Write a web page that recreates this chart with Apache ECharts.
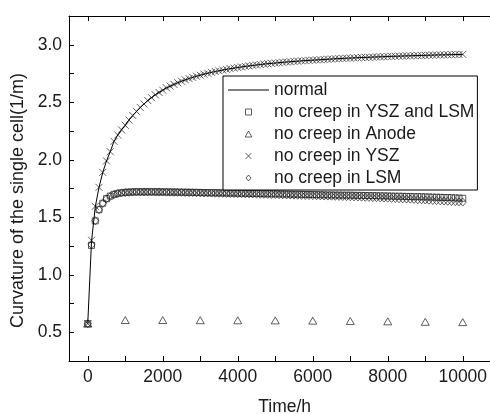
<!DOCTYPE html>
<html>
<head>
<meta charset="utf-8">
<script src="https://cdn.jsdelivr.net/npm/echarts@6/dist/echarts.min.js"></script>
<style>
  html, body { margin: 0; padding: 0; background: #fff; }
  #chart { width: 490px; height: 414px; }
</style>
</head>
<body>
<div id="chart"></div>
<script>
(() => {
  "use strict";

  // time axis (h), one sample every 100 h
  const times = [
    0, 100, 200, 300, 400, 500, 600, 700, 800, 900,
    1000, 1100, 1200, 1300, 1400, 1500, 1600, 1700, 1800, 1900,
    2000, 2100, 2200, 2300, 2400, 2500, 2600, 2700, 2800, 2900,
    3000, 3100, 3200, 3300, 3400, 3500, 3600, 3700, 3800, 3900,
    4000, 4100, 4200, 4300, 4400, 4500, 4600, 4700, 4800, 4900,
    5000, 5100, 5200, 5300, 5400, 5500, 5600, 5700, 5800, 5900,
    6000, 6100, 6200, 6300, 6400, 6500, 6600, 6700, 6800, 6900,
    7000, 7100, 7200, 7300, 7400, 7500, 7600, 7700, 7800, 7900,
    8000, 8100, 8200, 8300, 8400, 8500, 8600, 8700, 8800, 8900,
    9000, 9100, 9200, 9300, 9400, 9500, 9600, 9700, 9800, 9900,
    10000
  ];

  const normal = [
    0.575, 1.29, 1.59, 1.76, 1.89, 1.99, 2.07, 2.16, 2.215, 2.26,
    2.30, 2.345, 2.385, 2.42, 2.455, 2.485, 2.515, 2.54, 2.565, 2.585,
    2.605, 2.625, 2.64, 2.655, 2.67, 2.683, 2.695, 2.706, 2.716, 2.726,
    2.735, 2.744, 2.752, 2.76, 2.767, 2.774, 2.78, 2.786, 2.792, 2.797,
    2.802, 2.807, 2.812, 2.816, 2.82, 2.824, 2.828, 2.832, 2.835, 2.838,
    2.841, 2.844, 2.847, 2.85, 2.852, 2.855, 2.857, 2.86, 2.862, 2.864,
    2.866, 2.868, 2.87, 2.872, 2.874, 2.876, 2.878, 2.879, 2.881, 2.883,
    2.884, 2.886, 2.887, 2.889, 2.89, 2.891, 2.893, 2.894, 2.895, 2.896,
    2.898, 2.899, 2.9, 2.901, 2.902, 2.903, 2.904, 2.905, 2.906, 2.907,
    2.908, 2.909, 2.91, 2.911, 2.912, 2.912, 2.913, 2.914, 2.915, 2.915,
    2.916
  ];

  // crosses sit on the normal curve
  const noCreepYSZ = [
    0.575, 1.30, 1.595, 1.76, 1.89, 1.99, 2.07, 2.16, 2.215, 2.26,
    2.30, 2.345, 2.385, 2.42, 2.455, 2.485, 2.515, 2.54, 2.565, 2.585,
    2.605, 2.625, 2.64, 2.655, 2.67, 2.683, 2.695, 2.706, 2.716, 2.726,
    2.735, 2.744, 2.752, 2.76, 2.767, 2.774, 2.78, 2.786, 2.792, 2.797,
    2.802, 2.807, 2.812, 2.816, 2.82, 2.824, 2.828, 2.832, 2.835, 2.838,
    2.841, 2.844, 2.847, 2.85, 2.852, 2.855, 2.857, 2.86, 2.862, 2.864,
    2.866, 2.868, 2.87, 2.872, 2.874, 2.876, 2.878, 2.879, 2.881, 2.883,
    2.884, 2.886, 2.887, 2.889, 2.89, 2.891, 2.893, 2.894, 2.895, 2.896,
    2.898, 2.899, 2.9, 2.901, 2.902, 2.903, 2.904, 2.905, 2.906, 2.907,
    2.908, 2.909, 2.91, 2.911, 2.912, 2.912, 2.913, 2.914, 2.915, 2.915,
    2.916
  ];

  const noCreepYSZandLSM = [
    0.575, 1.255, 1.468, 1.566, 1.622, 1.662, 1.684, 1.699, 1.708, 1.713,
    1.716, 1.718, 1.72, 1.721, 1.721, 1.721, 1.721, 1.721, 1.721, 1.72,
    1.720, 1.720, 1.719, 1.719, 1.718, 1.718, 1.717, 1.717, 1.716, 1.716,
    1.715, 1.714, 1.714, 1.713, 1.713, 1.712, 1.712, 1.711, 1.710, 1.710,
    1.709, 1.709, 1.708, 1.708, 1.707, 1.707, 1.706, 1.705, 1.705, 1.704,
    1.704, 1.703, 1.702, 1.702, 1.701, 1.700, 1.700, 1.699, 1.698, 1.698,
    1.697, 1.696, 1.696, 1.695, 1.694, 1.694, 1.693, 1.693, 1.692, 1.692,
    1.692, 1.691, 1.690, 1.690, 1.689, 1.688, 1.688, 1.687, 1.686, 1.686,
    1.685, 1.684, 1.683, 1.683, 1.682, 1.681, 1.680, 1.679, 1.679, 1.678,
    1.677, 1.676, 1.675, 1.674, 1.673, 1.672, 1.671, 1.670, 1.668, 1.667,
    1.665
  ];

  const noCreepLSM = [
    0.575, 1.26, 1.47, 1.565, 1.62, 1.66, 1.682, 1.697, 1.706, 1.712,
    1.715, 1.717, 1.719, 1.72, 1.72, 1.72, 1.72, 1.72, 1.72, 1.72,
    1.719, 1.718, 1.718, 1.717, 1.717, 1.716, 1.715, 1.714, 1.714, 1.713,
    1.712, 1.711, 1.711, 1.710, 1.709, 1.709, 1.708, 1.707, 1.706, 1.706,
    1.705, 1.704, 1.703, 1.703, 1.702, 1.701, 1.700, 1.699, 1.698, 1.698,
    1.697, 1.696, 1.695, 1.694, 1.693, 1.692, 1.691, 1.690, 1.689, 1.689,
    1.688, 1.687, 1.686, 1.685, 1.684, 1.683, 1.682, 1.681, 1.680, 1.679,
    1.678, 1.677, 1.676, 1.675, 1.673, 1.672, 1.671, 1.670, 1.668, 1.667,
    1.666, 1.664, 1.663, 1.661, 1.660, 1.658, 1.657, 1.655, 1.653, 1.652,
    1.650, 1.648, 1.646, 1.645, 1.643, 1.641, 1.639, 1.637, 1.636, 1.634,
    1.632
  ];

  // anode case sampled every 1000 h
  const anodeTimes = [0, 1000, 2000, 3000, 4000, 5000, 6000, 7000, 8000, 9000, 10000];
  const noCreepAnode = [0.575, 0.606, 0.606, 0.605, 0.604, 0.603, 0.601, 0.598, 0.595, 0.591, 0.588];

  const xLabelValues = [0, 2000, 4000, 6000, 8000, 10000];
  const xTickValues = [0, 1000, 2000, 3000, 4000, 5000, 6000, 7000, 8000, 9000, 10000];
  const yLabelValues = [0.5, 1.0, 1.5, 2.0, 2.5, 3.0];
  const yTickValues = [0.5, 0.75, 1.0, 1.25, 1.5, 1.75, 2.0, 2.25, 2.5, 2.75, 3.0];

  const names = [
    "normal",
    "no creep in YSZ and LSM",
    "no creep in Anode",
    "no creep in YSZ",
    "no creep in LSM"
  ];

  const FONT = "'Liberation Sans', Arial, sans-serif";
  const FS = 17.5;
  const INK = "#000";
  const MARK = "#222";
  const TEXT = "#1a1a1a";

  const SYM_SQUARE = "path://M0,0H10V10H0Z";
  const SYM_TRIANGLE = "path://M5,0L10,9L0,9Z";
  const SYM_CROSS = "path://M0,0L10,10M10,0L0,10";
  const SYM_DIAMOND = "path://M5,0L10,6L5,12L0,6Z";

  const pairs = (xs, ys) => xs.map((x, i) => [x, ys[i]]);

  const hollow = { color: "rgba(0,0,0,0)", borderColor: MARK, borderWidth: 0.9 };

  const chart = echarts.init(document.getElementById("chart"), null, { renderer: "canvas" });

  const baseX = {
    type: "value",
    min: -500,
    max: 11000,
    axisLine: { show: true, onZero: false, lineStyle: { color: INK, width: 1 } },
    axisTick: { show: true, inside: true, length: 5, customValues: xTickValues, lineStyle: { color: INK, width: 1 } },
    splitLine: { show: false }
  };

  chart.setOption({
    animation: false,
    backgroundColor: "#fff",
    grid: { left: 69, top: 16, width: 431.25, height: 345, outerBoundsMode: "none", containLabel: false },
    legend: {
      orient: "vertical",
      left: 223,
      top: 76,
      padding: [5, 3, 3, 5],
      itemGap: 4,
      itemWidth: 41,
      itemHeight: 6,
      backgroundColor: "#fff",
      borderColor: INK,
      borderWidth: 1,
      borderRadius: 0,
      selectedMode: false,
      itemStyle: { borderWidth: 0.9 },
      textStyle: { color: TEXT, fontSize: FS, fontFamily: FONT, lineHeight: 17.5 },
      data: [
        { name: names[0], icon: "path://M0,0H40V1H0Z" },
        { name: names[1], icon: SYM_SQUARE },
        { name: names[2], icon: SYM_TRIANGLE },
        { name: names[3], icon: SYM_CROSS },
        { name: names[4], icon: SYM_DIAMOND }
      ]
    },
    xAxis: [
      Object.assign({}, baseX, {
        position: "bottom",
        axisLabel: {
          customValues: xLabelValues,
          margin: 7,
          color: TEXT,
          fontSize: FS,
          fontFamily: FONT,
          formatter: (v) => String(v)
        },
        name: "Time/h",
        nameLocation: "middle",
        nameGap: 37,
        nameTextStyle: { color: TEXT, fontSize: FS, fontFamily: FONT }
      }),
      Object.assign({}, baseX, {
        position: "top",
        axisLabel: { show: false }
      })
    ],
    yAxis: {
      type: "value",
      min: 0.25,
      max: 3.25,
      axisLine: { show: true, onZero: false, lineStyle: { color: INK, width: 1 } },
      axisTick: { show: true, inside: true, length: 5, customValues: yTickValues, lineStyle: { color: INK, width: 1 } },
      axisLabel: {
        customValues: yLabelValues,
        margin: 7,
        color: TEXT,
        fontSize: FS,
        fontFamily: FONT,
        formatter: (v) => Number(v).toFixed(1)
      },
      splitLine: { show: false },
      name: "Curvature of the single cell(1/m)",
      nameLocation: "middle",
      nameGap: 40,
      nameTextStyle: { color: TEXT, fontSize: 18, fontFamily: FONT, padding: [0, 24, 0, 0] }
    },
    series: [
      {
        name: names[0],
        type: "line",
        data: pairs(times, normal),
        symbol: "none",
        lineStyle: { color: INK, width: 1 },
        itemStyle: { color: INK },
        z: 3
      },
      {
        name: names[1],
        type: "scatter",
        data: pairs(times, noCreepYSZandLSM),
        symbol: SYM_SQUARE,
        symbolSize: 6,
        itemStyle: hollow
      },
      {
        name: names[2],
        type: "scatter",
        data: pairs(anodeTimes, noCreepAnode),
        symbol: SYM_TRIANGLE,
        symbolSize: [8, 7],
        itemStyle: hollow
      },
      {
        name: names[3],
        type: "scatter",
        data: pairs(times, noCreepYSZ),
        symbol: SYM_CROSS,
        symbolSize: 7,
        itemStyle: hollow
      },
      {
        name: names[4],
        type: "scatter",
        data: pairs(times, noCreepLSM),
        symbol: SYM_DIAMOND,
        symbolSize: [7, 8],
        itemStyle: hollow
      }
    ]
  });
})();
</script>
</body>
</html>
